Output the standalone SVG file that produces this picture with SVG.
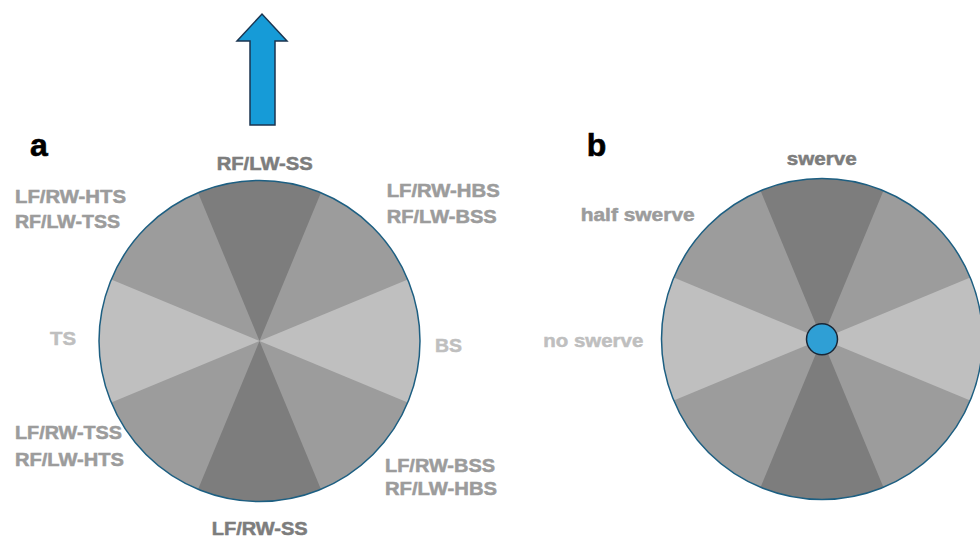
<svg xmlns="http://www.w3.org/2000/svg" xmlns:xlink="http://www.w3.org/1999/xlink" width="980" height="538" viewBox="0 0 980 538">
  <style>
    .lbl { font-family: "Liberation Sans", Arial, sans-serif; font-weight: 700; font-size: 18px; stroke-width: 0.5; }
    .dark { fill: #7d7d7d; stroke: #7d7d7d; }
    .mid { fill: #9c9c9c; stroke: #9c9c9c; }
    .light { fill: #bfbfbf; stroke: #bfbfbf; }
    .panel { font-family: "Liberation Sans", Arial, sans-serif; font-weight: 700; font-size: 32px; fill: #000; stroke: #000; stroke-width: 0.6; }
  </style>
  <defs>
    <!-- eight 45-degree sectors centred on the origin -->
    <g id="dial">
      <circle r="160.5" fill="#9c9c9c"/>
      <path fill="#7d7d7d" d="M0,0 L-61.42,-148.28 A160.5,160.5 0 0 1 61.42,-148.28 Z M0,0 L61.42,148.28 A160.5,160.5 0 0 1 -61.42,148.28 Z"/>
      <path fill="#bfbfbf" d="M0,0 L148.28,-61.42 A160.5,160.5 0 0 1 148.28,61.42 Z M0,0 L-148.28,61.42 A160.5,160.5 0 0 1 -148.28,-61.42 Z"/>
      <circle r="160.5" fill="none" stroke="#1d5f82" stroke-width="1.5"/>
    </g>
  </defs>

  <!-- heading arrow -->
  <g id="arrow">
    <path d="M250,125 L250,41 L237,41 L262,14 L287,41 L275,41 L275,125 Z" fill="#169bd7" stroke="#1b3550" stroke-width="1.5" stroke-linejoin="miter"/>
  </g>

  <!-- panel a -->
  <g id="panel-a">
    <text class="panel" x="30" y="156">a</text>
    <use xlink:href="#dial" transform="translate(259.5,341)"/>
    <text class="lbl dark" x="216.7" y="170" textLength="96" lengthAdjust="spacingAndGlyphs">RF/LW-SS</text>
    <text class="lbl mid" x="15" y="203" textLength="111" lengthAdjust="spacingAndGlyphs">LF/RW-HTS</text>
    <text class="lbl mid" x="15" y="228" textLength="105" lengthAdjust="spacingAndGlyphs">RF/LW-TSS</text>
    <text class="lbl mid" x="386.7" y="197" textLength="113" lengthAdjust="spacingAndGlyphs">LF/RW-HBS</text>
    <text class="lbl mid" x="386.7" y="222.7" textLength="110" lengthAdjust="spacingAndGlyphs">RF/LW-BSS</text>
    <text class="lbl light" x="50" y="345" textLength="26" lengthAdjust="spacingAndGlyphs">TS</text>
    <text class="lbl light" x="435" y="351.7" textLength="27" lengthAdjust="spacingAndGlyphs">BS</text>
    <text class="lbl mid" x="15" y="439.3" textLength="107" lengthAdjust="spacingAndGlyphs">LF/RW-TSS</text>
    <text class="lbl mid" x="15" y="466" textLength="109" lengthAdjust="spacingAndGlyphs">RF/LW-HTS</text>
    <text class="lbl mid" x="385" y="471.7" textLength="110" lengthAdjust="spacingAndGlyphs">LF/RW-BSS</text>
    <text class="lbl mid" x="385" y="495" textLength="112" lengthAdjust="spacingAndGlyphs">RF/LW-HBS</text>
    <text class="lbl dark" x="211.7" y="534.5" textLength="96" lengthAdjust="spacingAndGlyphs">LF/RW-SS</text>
  </g>

  <!-- panel b -->
  <g id="panel-b">
    <text class="panel" x="586.7" y="156">b</text>
    <use xlink:href="#dial" transform="translate(822,339)"/>
    <circle cx="822" cy="339.3" r="15.5" fill="#2f9fd5" stroke="#1a2635" stroke-width="1.5"/>
    <text class="lbl dark" x="786.7" y="165" textLength="70" lengthAdjust="spacingAndGlyphs">swerve</text>
    <text class="lbl mid" x="580.7" y="221" textLength="114" lengthAdjust="spacingAndGlyphs">half swerve</text>
    <text class="lbl light" x="543.3" y="347.3" textLength="100" lengthAdjust="spacingAndGlyphs">no swerve</text>
  </g>
</svg>
